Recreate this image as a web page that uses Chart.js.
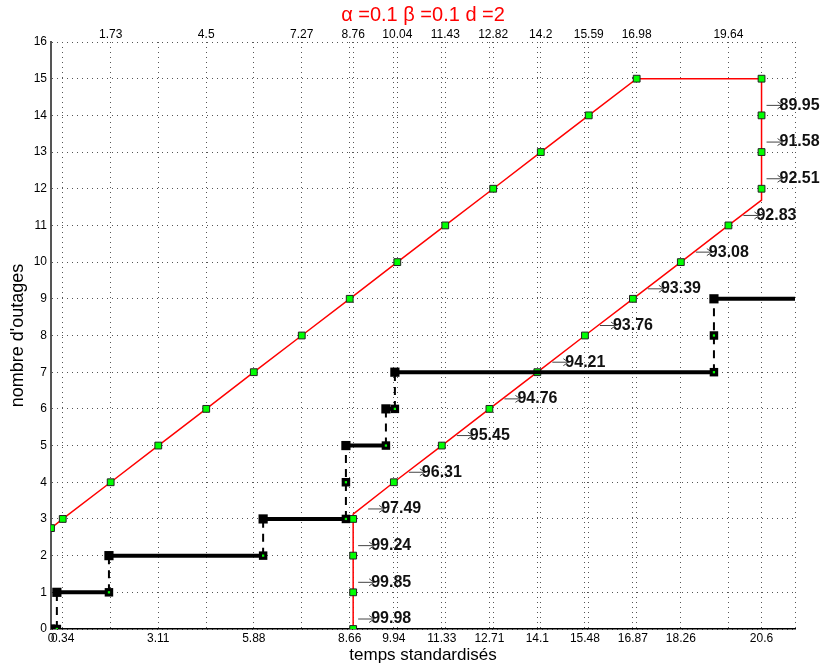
<!DOCTYPE html>
<html>
<head>
<meta charset="utf-8">
<script src="https://cdn.jsdelivr.net/npm/chart.js@4/dist/chart.umd.min.js"></script>
<style>
  html, body { margin: 0; padding: 0; background: #fff; }
  #wrap { width: 822px; height: 669px; position: relative; }
</style>
</head>
<body>
<div id="wrap"><canvas id="myChart"></canvas></div>
<script>
const FONT = '"Liberation Sans", Arial, Helvetica, sans-serif';
const xMax = 21.57;

// red curve: rising branch, plateau, then the way back down
const redX = [0, 0.34, 1.73, 3.11, 4.5, 5.88, 7.27, 8.66, 10.04, 11.43, 12.82, 14.2, 15.59, 16.98,
  20.6, 20.6, 20.6, 20.6, 20.6, 19.64, 18.26, 16.87, 15.48, 14.1, 12.71, 11.33, 9.94, 8.76, 8.76, 8.76, 8.76, 8.76];
const redY = [2.75, 3, 4, 5, 6, 7, 8, 9, 10, 11, 12, 13, 14, 15,
  15, 14, 13, 12, 11.69, 11, 10, 9, 8, 7, 6, 5, 4, 3.13, 3, 2, 1, 0];

// percentages printed along the way back
const probLabels = ["89.95", "91.58", "92.51", "92.83", "93.08", "93.39", "93.76", "94.21",
  "94.76", "95.45", "96.31", "97.49", "99.24", "99.85", "99.98"];

// black step curve
const stepX = [0, 0.17, 0.17, 1.68, 1.68, 6.15, 6.15, 8.55, 8.55, 9.71, 9.71, 9.97, 9.97, 19.22, 19.22, xMax];
const stepY = [0, 0, 1, 1, 2, 2, 3, 3, 5, 5, 6, 6, 7, 7, 9, 9];

const startX = [0, 0.17, 1.68, 6.15, 8.55, 9.71, 9.97, 19.22];
const startY = [0, 1, 2, 3, 5, 6, 7, 9];
const endX = [0.17, 1.68, 6.15, 8.55, 8.55, 9.71, 9.97, 19.22, 19.22];
const endY = [0, 1, 2, 3, 4, 5, 6, 7, 8];

const bottomTicks = [0, 0.34, 3.11, 5.88, 8.66, 9.94, 11.33, 12.71, 14.1, 15.48, 16.87, 18.26, 20.6, xMax];
const topTicks = [1.73, 4.5, 7.27, 8.76, 10.04, 11.43, 12.82, 14.2, 15.59, 16.98, 19.64];

const pts = (xs, ys) => xs.map((x, i) => ({ x: x, y: ys[i] }));

const returnStart = redX.indexOf(Math.max(...redX)) + 1;

const labelPlugin = {
  id: "probLabels",
  afterDatasetsDraw(chart) {
    const meta = chart.getDatasetMeta(4);
    const ctx = chart.ctx;
    let k = 0;
    ctx.save();
    for (let i = returnStart; i < redY.length; i++) {
      if (!Number.isInteger(redY[i])) continue;
      const p = meta.data[i];
      const shift = (k < 3 || k > 11) ? 5 : 15;
      const ax = p.x + shift;
      const ay = p.y - 10;
      ctx.strokeStyle = "#444";
      ctx.lineWidth = 1;
      ctx.beginPath();
      ctx.moveTo(ax, ay);
      ctx.lineTo(ax + 16, ay);
      ctx.moveTo(ax + 16, ay);
      ctx.lineTo(ax + 11, ay - 3.5);
      ctx.moveTo(ax + 16, ay);
      ctx.lineTo(ax + 11, ay + 3.5);
      ctx.stroke();
      ctx.font = "bold 16px " + FONT;
      ctx.fillStyle = "#111";
      ctx.textAlign = "left";
      ctx.textBaseline = "middle";
      ctx.fillText(probLabels[k], ax + 13, ay);
      k++;
    }
    ctx.restore();
  },
};

const gridOpts = { color: "#555", lineWidth: 1, drawTicks: false };
const dots = [1, 4];

const config = {
  type: "scatter",
  data: {
    datasets: [
      {
        data: pts(endX, endY),
        pointStyle: "rect",
        pointRadius: 1.6,
        backgroundColor: "#00ff00",
        borderWidth: 0,
      },
      {
        data: pts(endX, endY),
        pointStyle: "rect",
        pointRadius: 6,
        backgroundColor: "#000",
        borderWidth: 0,
      },
      {
        data: pts(startX, startY),
        pointStyle: "rect",
        pointRadius: 6.5,
        backgroundColor: "#000",
        borderWidth: 0,
      },
      {
        data: pts(stepX, stepY),
        showLine: true,
        pointRadius: 0,
        borderColor: "#000",
        borderWidth: 4,
        segment: {
          borderDash: (c) => (c.p0.parsed.x === c.p1.parsed.x ? [8, 6] : undefined),
          borderWidth: (c) => (c.p0.parsed.x === c.p1.parsed.x ? 2 : 4),
        },
      },
      {
        data: pts(redX, redY),
        showLine: true,
        borderColor: "#ff0000",
        borderWidth: 1.5,
        pointStyle: "rect",
        pointRadius: (c) => (c.dataIndex === 0 || Number.isInteger(redY[c.dataIndex]) ? 4.8 : 0),
        pointBackgroundColor: "#00ff00",
        pointBorderColor: "#222",
        pointBorderWidth: 1,
      },
    ],
  },
  options: {
    responsive: true,
    maintainAspectRatio: false,
    animation: false,
    layout: { padding: { left: 0, right: 27, top: 0, bottom: 0 } },
    plugins: { legend: { display: false }, tooltip: { enabled: false } },
    scales: {
      x: {
        type: "linear",
        position: "bottom",
        min: 0,
        max: xMax,
        afterBuildTicks: (s) => { s.ticks = bottomTicks.map((v) => ({ value: v })); },
        afterFit: (s) => { s.height = 40; },
        ticks: {
          autoSkip: false,
          maxRotation: 0,
          padding: 2,
          color: "#000",
          font: { family: FONT, size: 12 },
          callback: (v) => (v === xMax ? "" : String(v)),
        },
        grid: gridOpts,
        border: { display: true, color: "#000", width: 1.5, dash: dots },
        title: {
          display: true,
          text: "temps standardisés",
          color: "#000",
          font: { family: FONT, size: 17 },
          padding: { top: 0, bottom: 3 },
        },
      },
      x2: {
        type: "linear",
        position: "top",
        min: 0,
        max: xMax,
        afterBuildTicks: (s) => { s.ticks = topTicks.map((v) => ({ value: v })); },
        afterFit: (s) => { s.height = 42; },
        ticks: {
          autoSkip: false,
          maxRotation: 0,
          padding: 0,
          color: "#000",
          font: { family: FONT, size: 12 },
          callback: (v) => String(v),
        },
        grid: gridOpts,
        border: { display: false, dash: dots },
        title: {
          display: true,
          text: "α =0.1 β =0.1 d =2",
          color: "#ff0000",
          font: { family: FONT, size: 20 },
          padding: { top: 3, bottom: 0 },
        },
      },
      y: {
        min: 0,
        max: 16,
        afterFit: (s) => { s.width = 51; },
        ticks: {
          stepSize: 1,
          padding: 4,
          color: "#000",
          font: { family: FONT, size: 12 },
        },
        grid: gridOpts,
        border: { display: true, color: "#555", width: 2, dash: dots },
        title: {
          display: true,
          text: "nombre d'outages",
          color: "#000",
          font: { family: FONT, size: 18 },
          padding: { top: 7, bottom: 0 },
        },
      },
    },
  },
  plugins: [labelPlugin],
};

const myChart = new Chart(document.querySelector("#myChart"), config);
</script>
</body>
</html>
